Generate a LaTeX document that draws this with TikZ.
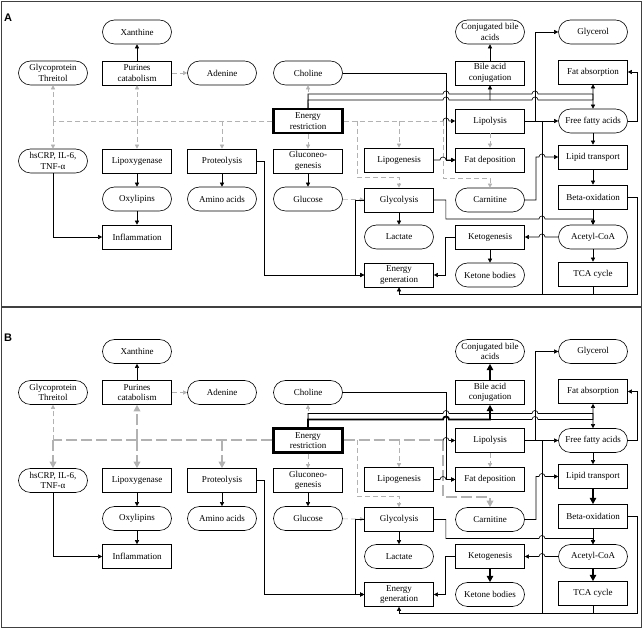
\documentclass[tikz,border=0pt]{standalone}
\usepackage{fontspec}
\setmainfont{Liberation Serif}
\newfontfamily\panelfont{Liberation Sans}
\usetikzlibrary{arrows.meta}

\tikzset{
  box/.style={draw, line width=0.6pt, minimum width=69pt, minimum height=24pt, inner sep=1pt, align=center, font=\fontsize{9}{10.5}\selectfont},
  rbox/.style={box, rounded corners=12pt},
  ebox/.style={box, line width=2.2pt},
  ln/.style={line width=0.6pt},
  arr/.style={ln, -{Triangle[length=3pt 1.8, width=3pt 1.8]}},
  gln/.style={ln, black!30, dash pattern=on 5pt off 3pt},
  garr/.style={arr, black!30, dash pattern=on 5pt off 3pt},
  hi/.style={},
  hig/.style={},
}

\newcommand{\metapanel}[1]{%
  \node[font=\panelfont\bfseries\fontsize{11}{11}\selectfont] (lbl) at (8,611) {#1};
  \node[rbox] (xan) at (137,597) {Xanthine};
  \node[rbox] (gpt) at (53,556) {Glycoprotein\\Threitol};
  \node[box] (pur) at (137,556) {Purines\\catabolism};
  \node[rbox] (ade) at (222,556) {Adenine};
  \node[rbox] (cho) at (308,556) {Choline};
  \node[ebox] (er) at (308,508) {Energy\\restriction};
  \node[rbox] (hs) at (53,468) {hsCRP, IL-6,\\TNF-α};
  \node[box] (lox) at (137,468) {Lipoxygenase};
  \node[box] (pro) at (222,468) {Proteolysis};
  \node[box] (gng) at (308,468) {Gluconeo-\\genesis};
  \node[rbox] (oxy) at (137,430) {Oxylipins};
  \node[rbox] (ami) at (222,430) {Amino acids};
  \node[rbox] (glc) at (308,430) {Glucose};
  \node[box] (inf) at (137,392) {Inflammation};
  \node[rbox] (cba) at (490,597) {Conjugated bile\\acids};
  \node[rbox] (glr) at (593,597) {Glycerol};
  \node[box] (bac) at (490,556) {Bile acid\\conjugation};
  \node[box] (fab) at (593,557) {Fat absorption};
  \node[box] (lpl) at (490,508) {Lipolysis};
  \node[rbox] (ffa) at (593,508) {Free fatty acids};
  \node[box] (lpg) at (399,469) {Lipogenesis};
  \node[box] (fdp) at (490,469) {Fat deposition};
  \node[box] (ltr) at (593,472) {Lipid transport};
  \node[box] (gox) at (593,432) {Beta-oxidation};
  \node[rbox] (acc) at (593,392) {Acetyl-CoA};
  \node[box] (tca) at (593,355) {TCA cycle};
  \node[box] (gcl) at (399,429) {Glycolysis};
  \node[rbox] (car) at (490,429) {Carnitine};
  \node[rbox] (lac) at (399,392) {Lactate};
  \node[box] (ket) at (490,392) {Ketogenesis};
  \node[box] (egn) at (399,354) {Energy\\generation};
  \node[rbox] (kbd) at (490,354) {Ketone bodies};
  % energy restriction, grey dashed
  \draw[garr] (er) -- (cho);
  \draw[garr] (er) -- (gng);
  \draw[gln,hig] (er.west) -- (53,508);
  \draw[garr] (53,508) -- (gpt);
  \draw[garr,hig] (53,508) -- (hs);
  \draw[garr,hig] (137,508) -- (pur);
  \draw[garr,hig] (137,508) -- (lox);
  \draw[garr,hig] (222,508) -- (pro);
  \draw[gln,hig] (er.east) -- (443,508);
  \draw[garr] (357,508) |- (399,452) -- (gcl);
  \draw[garr] (399,508) -- (lpg);
  \draw[garr,hig] (443,508) |- (490,451) -- (car);
  \draw[garr] (lpl) -- (fdp);
  \draw[garr] (glc) -- (gcl);
  \draw[garr] (pur) -- (ade);
  % black
  \draw[arr] (pur) -- (xan);
  \draw[arr,hi] (bac) -- (cba);
  \draw[arr] (lox) -- (oxy);
  \draw[arr] (oxy) -- (inf);
  \draw[arr] (pro) -- (ami);
  \draw[arr] (gng) -- (glc);
  \draw[arr] (gcl) -- (lac);
  \draw[arr,hi] (ket) -- (kbd);
  \draw[arr] (ffa) -- (ltr);
  \draw[arr,hi] (ltr) -- (gox);
  \draw[arr] (gox) -- (acc);
  \draw[arr,hi] (acc) -- (tca);
  \draw[arr] (hs) |- (inf);
  \draw[arr] (pro.east) -- ++(7,0) |- (egn.west);
  \draw[arr] (gcl.west) -- ++(-9,0) |- (egn.west);
  \draw[arr] (ket.west) -- ++(-10,0) |- (egn.east);
  \draw[arr] (gcl.east) -- ++(12,0) |- (539,410) arc[start angle=180, end angle=0, radius=3] -| (acc.north);
  \draw[arr] (acc.west) -- (545,392) arc[start angle=0, end angle=180, radius=3] -- (ket.east);
  \draw[arr] (gox.east) -| (637,335) -| (egn.south);
  \draw[ln] (tca.south) -- ++(0,-8);
  \draw[ln] (542,508) -- (542,335);
  \draw[arr] (lpl) -- (ffa);
  \draw[arr] (lpl.east) -- ++(10,0) |- (glr.west);
  \draw[arr] (ffa.east) -- ++(9,0) |- (fab.east);
  \draw[arr] (car.east) -| (536,472) -- (539,472) arc[start angle=180, end angle=0, radius=3] -- (ltr.west);
  \draw[arr] (cho.east) -| (446,469) -- (fdp.west);
  \draw[arr] (lpg.east) -- (440,469) arc[start angle=180, end angle=0, radius=3] -- (fdp.west);
  \draw[arr] (443,508) arc[start angle=180, end angle=0, radius=3] -- (lpl.west);
  \draw[arr] (er.north) |- (443,535) arc[start angle=180, end angle=0, radius=3] -- (532,535) arc[start angle=180, end angle=0, radius=3] -| (ffa.north);
  \draw[arr,hi] (er.north) |- (443,529) arc[start angle=180, end angle=0, radius=3] -| (bac.south);
  \draw[arr] (490,529) -- (532,529) arc[start angle=180, end angle=0, radius=3] -| (fab.south);
}

\begin{document}
\begin{tikzpicture}[x=1pt, y=1pt]
  \useasboundingbox (0,0) rectangle (643,629);
  \draw[line width=0.8pt, black!75] (1,628) rectangle (641,323);
  \draw[line width=0.8pt, black!75] (1,322) rectangle (641,2);
  \begin{scope}[name prefix=a-]
    \metapanel{A}
  \end{scope}
  \begin{scope}[name prefix=b-, yshift=-319.5pt, hi/.style={line width=1.8pt}, hig/.style={line width=2pt, dash pattern=on 11pt off 4pt}]
    \metapanel{B}
  \end{scope}
\end{tikzpicture}
\end{document}
